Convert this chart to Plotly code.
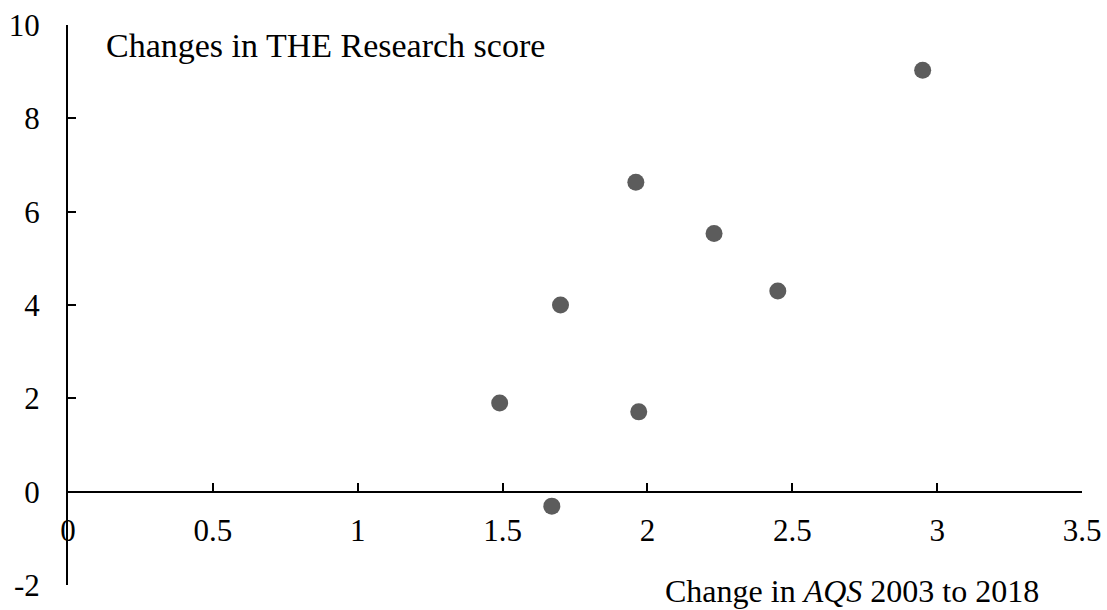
import plotly.graph_objects as go

# Data
aqs_change = [2.95, 1.96, 2.23, 2.45, 1.70, 1.49, 1.97, 1.67]
research_change = [9.03, 6.63, 5.53, 4.3, 4.0, 1.9, 1.71, -0.31]

x_tick_vals = [0, 0.5, 1, 1.5, 2, 2.5, 3, 3.5]
x_tick_text = ["0", "0.5", "1", "1.5", "2", "2.5", "3", "3.5"]
y_tick_vals = [-2, 0, 2, 4, 6, 8, 10]
y_tick_text = ["-2", "0", "2", "4", "6", "8", "10"]

FONT = "Liberation Serif, Times New Roman, serif"

fig = go.Figure()
fig.add_trace(go.Scatter(
    x=aqs_change, y=research_change, mode="markers",
    marker=dict(size=17, color="#5c5c5c", line=dict(width=0)),
    showlegend=False, cliponaxis=False,
))

fig.update_layout(
    width=1107, height=610,
    margin=dict(l=68, r=25, t=25, b=25, autoexpand=False),
    paper_bgcolor="white", plot_bgcolor="white",
    font=dict(family=FONT, size=31, color="black"),
    xaxis=dict(
        range=[0, 3.5], tickvals=x_tick_vals, ticktext=x_tick_text,
        showline=True, linecolor="black", linewidth=2,
        ticks="inside", ticklen=8, tickwidth=2, tickcolor="black",
        showgrid=False, zeroline=False, automargin=False,
        anchor="free", position=1/6, ticklabelstandoff=11,
        tickfont=dict(family=FONT, size=31, color="black"),
    ),
    yaxis=dict(
        range=[-2, 10], tickvals=y_tick_vals, ticktext=y_tick_text,
        showline=True, linecolor="black", linewidth=2,
        ticks="inside", ticklen=8, tickwidth=2, tickcolor="black",
        showgrid=False, zeroline=False, automargin=False, ticklabelstandoff=20,
        tickfont=dict(family=FONT, size=31, color="black"),
    ),
    annotations=[
        dict(text="Changes in THE Research score", x=0.125, y=9.56,
             xref="x", yref="y", xanchor="left", yanchor="middle",
             showarrow=False, font=dict(family=FONT, size=34, color="black")),
        dict(text="Change in <i>AQS</i> 2003 to 2018", x=0.773, y=-0.011,
             xref="paper", yref="paper", xanchor="center", yanchor="middle",
             showarrow=False, font=dict(family=FONT, size=32, color="black")),
    ],
)

fig.write_html("out.html")
